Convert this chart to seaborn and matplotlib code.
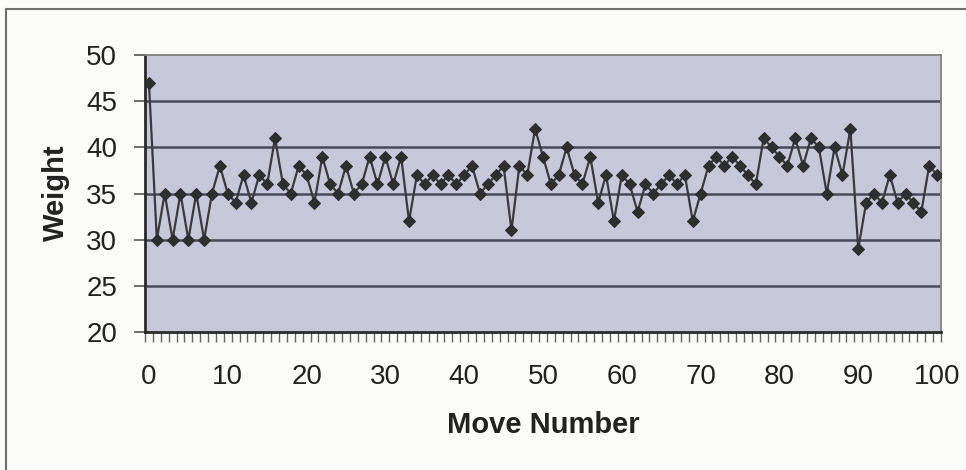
import numpy as np
import pandas as pd
import matplotlib
matplotlib.use("Agg")
import matplotlib.pyplot as plt
from matplotlib.patches import Rectangle
from matplotlib.ticker import MultipleLocator, FixedLocator
import seaborn as sns

moves = list(range(0, 101))
weights = [47, 30, 35, 30, 35, 30, 35, 30, 35, 38,
           35, 34, 37, 34, 37, 36, 41, 36, 35, 38,
           37, 34, 39, 36, 35, 38, 35, 36, 39, 36,
           39, 36, 39, 32, 37, 36, 37, 36, 37, 36,
           37, 38, 35, 36, 37, 38, 31, 38, 37, 42,
           39, 36, 37, 40, 37, 36, 39, 34, 37, 32,
           37, 36, 33, 36, 35, 36, 37, 36, 37, 32,
           35, 38, 39, 38, 39, 38, 37, 36, 41, 40,
           39, 38, 41, 38, 41, 40, 35, 40, 37, 42,
           29, 34, 35, 34, 37, 34, 35, 34, 33, 38,
           37]
y_ticks = [20, 25, 30, 35, 40, 45, 50]
x_ticks = list(range(0, 101, 10))
x_label = "Move Number"
y_label = "Weight"

df = pd.DataFrame({"Move Number": moves, "Weight": weights})

sns.set_style("white")
plt.rcParams["font.family"] = ["Liberation Sans", "DejaVu Sans"]

W, H = 966, 470
fig = plt.figure(figsize=(W / 100, H / 100), dpi=100)
fig.patch.set_facecolor("#fbfbf9")

# chart-area border (extends past right/bottom edges)
fig.patches.append(Rectangle((6 / W, -0.05), 1.2, 1 - 9 / H + 0.05,
                             transform=fig.transFigure, fill=False,
                             edgecolor="#707070", linewidth=1.5, zorder=0))

left, right, top, bottom = 145, 941, 55, 332
ax = fig.add_axes([left / W, 1 - bottom / H, (right - left) / W, (bottom - top) / H])
ax.set_facecolor("#c8c8db")

sns.lineplot(data=df, x="Move Number", y="Weight", ax=ax, color="#3a3a3a",
             linewidth=1.6, marker="D", markersize=6.5,
             markerfacecolor="#2e2e2e", markeredgecolor="#2e2e2e", zorder=3)

ax.set_xlim(-0.5, 100.5)
ax.set_ylim(20, 50)
ax.set_yticks(y_ticks)
ax.set_xticks(x_ticks)
ax.xaxis.set_minor_locator(FixedLocator(np.arange(-0.5, 101, 1.0)))

for yv in y_ticks[1:-1]:
    ax.axhline(yv, color="#4a4a5c", linewidth=1.8, zorder=1)

ax.tick_params(axis="y", which="major", direction="out", length=8, width=1.2,
               color="#555555", pad=12, labelsize=20, labelcolor="#222222", left=True)
ax.tick_params(axis="x", which="major", length=0, pad=23, labelsize=20,
               labelcolor="#222222", bottom=True)
ax.tick_params(axis="x", which="minor", direction="out", length=7, width=1.0,
               color="#666666", bottom=True)

for side in ["left", "bottom"]:
    ax.spines[side].set_color("#2a2a2a")
    ax.spines[side].set_linewidth(2.0)
for side in ["top", "right"]:
    ax.spines[side].set_visible(True)
    ax.spines[side].set_color("#808080")
    ax.spines[side].set_linewidth(1.3)

ax.set_xlabel("")
ax.set_ylabel("")
fig.text(543 / W, 1 - 425 / H, x_label, ha="center", va="center",
         fontsize=21, fontweight="bold", color="#222222")
fig.text(56 / W, 1 - 193 / H, y_label, ha="center", va="center", rotation=90,
         fontsize=21, fontweight="bold", color="#222222")

fig.savefig("out.png", dpi=100, facecolor=fig.get_facecolor())
